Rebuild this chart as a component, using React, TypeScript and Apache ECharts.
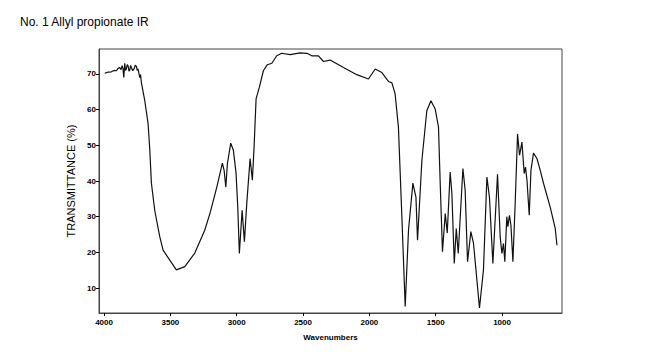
import React, { useEffect, useRef } from "react";
import * as echarts from "echarts";

const titleText = "No. 1 Allyl propionate IR";
const xTicks = [1000, 1500, 2000, 2500, 3000, 3500, 4000];
const yTicks = [10, 20, 30, 40, 50, 60, 70];

const wavenumbers = [
  3995, 3970, 3945, 3925, 3907, 3895, 3882, 3872, 3864, 3857, 3851, 3844, 3838, 3832, 3825, 3819,
  3812, 3806, 3800, 3794, 3784, 3774, 3765, 3756, 3750, 3744, 3737, 3731, 3725, 3719,
  3693, 3668, 3655, 3643, 3618, 3580, 3555, 3455, 3391, 3316, 3241,
  3201, 3150, 3108, 3095, 3082, 3070, 3045, 3025, 3005, 2992, 2980, 2959, 2942, 2924, 2899, 2882,
  2869, 2854, 2829, 2799, 2769, 2735, 2698, 2660, 2597, 2522, 2471, 2434, 2384, 2346, 2296, 2195,
  2095, 2007, 1956, 1906, 1856, 1830, 1806, 1781, 1755, 1730, 1705, 1672, 1649, 1637, 1604, 1567,
  1536, 1504, 1479, 1466, 1449, 1428, 1413, 1391, 1378, 1360, 1345, 1330, 1295, 1278, 1260, 1235,
  1215, 1170, 1140, 1114, 1095, 1069, 1034, 1014, 1001, 989, 979, 964, 956, 944, 933, 918, 901,
  883, 868, 850, 833, 823, 812, 795, 782, 763, 737, 712, 687, 637, 599, 586,
];

const transmittance = [
  70.2, 70.5, 70.6, 71.0, 70.9, 71.5, 71.8, 71.2, 72.3, 71.5, 69.0, 73.0, 71.0, 71.4, 72.6, 72.3,
  70.8, 71.1, 72.4, 71.8, 70.9, 71.4, 72.5, 72.1, 71.0, 71.4, 70.2, 69.0, 69.8, 67.7,
  62.5, 56.1, 48.6, 39.4, 31.8, 24.4, 20.6, 15.1, 16.0, 19.8, 26.2,
  31.0, 38.3, 45.0, 43.0, 38.3, 44.9, 50.6, 48.6, 42.2, 32.7, 19.7, 31.8, 23.0, 33.8, 46.3, 40.2,
  49.5, 63.0, 66.3, 70.9, 72.6, 73.0, 75.1, 75.8, 75.4, 75.9, 75.8, 75.1, 75.1, 73.5, 73.9, 71.8,
  69.8, 68.6, 71.4, 70.4, 67.9, 67.5, 64.4, 55.1, 30.0, 4.8, 26.2, 39.4, 35.5, 23.4, 45.8, 59.7,
  62.5, 60.2, 55.1, 39.3, 20.2, 30.9, 25.4, 42.5, 36.5, 16.9, 26.7, 19.7, 43.5, 37.4, 17.4, 25.8,
  22.5, 4.4, 15.1, 41.1, 35.5, 16.9, 41.9, 24.4, 19.7, 22.5, 17.4, 30.0, 27.2, 30.4, 27.6, 17.4, 33.7,
  53.2, 47.2, 50.9, 42.1, 43.9, 40.2, 30.4, 43.0, 47.8, 46.3, 43.0, 39.3, 32.7, 26.7, 22.0,
];

export default function App() {
  const ref = useRef<HTMLDivElement>(null);
  useEffect(() => {
    if (!ref.current) return;
    const chart = echarts.init(ref.current, null, { renderer: "svg" });
    const data = wavenumbers.map((w, i) => [w, transmittance[i]]);
    const font = "Liberation Sans, Arial, sans-serif";
    chart.setOption({
      animation: false,
      backgroundColor: "#fff",
      title: {
        text: titleText,
        left: 20,
        top: 16,
        padding: 0,
        textStyle: { fontFamily: font, fontSize: 12, fontWeight: "normal", color: "#000" },
      },
      grid: {
        left: 99,
        right: 88,
        top: 49,
        bottom: 46,
        show: true,
        borderColor: "#444",
        borderWidth: 1,
        containLabel: false,
      },
      xAxis: {
        type: "value",
        inverse: true,
        min: 548,
        max: 4038,
        name: "Wavenumbers",
        nameLocation: "middle",
        nameGap: 20,
        nameTextStyle: { fontFamily: font, fontSize: 8, fontWeight: "bold", color: "#000" },
        axisLine: { show: true, lineStyle: { color: "#444", width: 1 } },
        axisTick: { show: true, length: 3, customValues: xTicks, lineStyle: { color: "#000" } },
        axisLabel: {
          customValues: xTicks,
          formatter: (v: number) => String(v),
          fontFamily: font,
          fontSize: 8,
          fontWeight: "bold",
          color: "#000",
          margin: 5,
        },
        splitLine: { show: false },
      },
      yAxis: {
        type: "value",
        min: 3,
        max: 77,
        name: "TRANSMITTANCE (%)",
        nameLocation: "middle",
        nameRotate: 90,
        nameGap: 21,
        nameTextStyle: { fontFamily: font, fontSize: 11, fontWeight: "normal", color: "#000" },
        axisLine: { show: true, lineStyle: { color: "#444", width: 1 } },
        axisTick: { show: true, length: 3, customValues: yTicks, lineStyle: { color: "#000" } },
        axisLabel: {
          customValues: yTicks,
          formatter: (v: number) => String(v),
          fontFamily: font,
          fontSize: 8,
          fontWeight: "bold",
          color: "#000",
          margin: 3,
        },
        splitLine: { show: false },
      },
      series: [
        {
          type: "line",
          data,
          showSymbol: false,
          symbol: "none",
          lineStyle: { color: "#111", width: 1.2 },
        },
      ],
    });
    return () => chart.dispose();
  }, []);
  return (
    <div
      ref={ref}
      style={{ position: "absolute", left: 0, top: 0, width: 650, height: 359 }}
    />
  );
}
